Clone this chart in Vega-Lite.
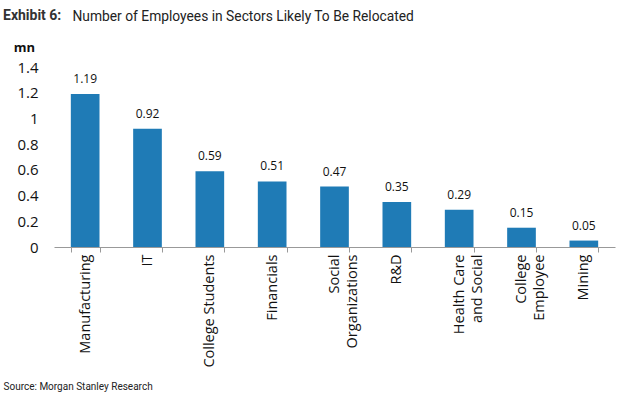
{
  "$schema": "https://vega.github.io/schema/vega-lite/v6.json",
  "width": 561,
  "height": 180,
  "autosize": "none",
  "padding": {"left": 54, "top": 67, "right": 25, "bottom": 157},
  "background": "white",
  "title": {
    "text": "Exhibit 6:",
    "anchor": "start",
    "frame": "group",
    "dx": -51,
    "font": "Roboto",
    "fontSize": 14,
    "fontWeight": "bold",
    "color": "#333333",
    "offset": -14
  },
  "data": {
    "values": [
      {"sector": "Manufacturing", "value": 1.19},
      {"sector": "IT", "value": 0.92},
      {"sector": "College Students", "value": 0.59},
      {"sector": "Financials", "value": 0.51},
      {"sector": "Social|Organizations", "value": 0.47},
      {"sector": "R&D", "value": 0.35},
      {"sector": "Health Care|and Social", "value": 0.29},
      {"sector": "College|Employee", "value": 0.15},
      {"sector": "Mining", "value": 0.05}
    ]
  },
  "encoding": {
    "y": {
      "field": "value",
      "type": "quantitative",
      "scale": {"domain": [0, 1.4], "nice": false},
      "axis": {
        "title": "mn",
        "titleAngle": 0,
        "titleAlign": "center",
        "titleBaseline": "middle",
        "titleX": -30,
        "titleY": -20,
        "titleFont": "Open Sans",
        "titleFontSize": 13,
        "titleFontWeight": "bold",
        "titleColor": "#111111",
        "values": [0, 0.2, 0.4, 0.6, 0.8, 1, 1.2, 1.4],
        "format": ".1~f",
        "labelFont": "Open Sans",
        "labelFontSize": 15,
        "labelColor": "#111111",
        "labelPadding": 16,
        "domain": false,
        "ticks": false,
        "grid": false
      }
    }
  },
  "layer": [
    {
      "mark": {"type": "bar", "color": "#1F7BB6"},
      "encoding": {
        "x": {
          "field": "sector",
          "type": "nominal",
          "sort": null,
          "scale": {"paddingInner": 0.54, "paddingOuter": 0.27},
          "axis": {
            "title": "Source: Morgan Stanley Research",
            "titleAnchor": "start",
            "titleAlign": "left",
            "titleX": -51,
            "titleY": 142,
            "titleBaseline": "alphabetic",
            "titleFont": "Roboto",
            "titleFontSize": 10,
            "titleFontWeight": "normal",
            "titleColor": "#222222",
            "labelExpr": "split(datum.label, '|')",
            "labelAngle": -90,
            "labelFont": "Open Sans",
            "labelFontSize": 14.5,
            "labelColor": "#111111",
            "labelPadding": 2,
            "labelLineHeight": 18,
            "tickBand": "extent",
            "tickSize": 5,
            "tickColor": "#999999",
            "domainColor": "#999999",
            "grid": false
          }
        }
      }
    },
    {
      "mark": {"type": "text", "baseline": "alphabetic", "dy": -11, "font": "Open Sans", "fontSize": 12, "color": "#111111"},
      "encoding": {
        "x": {
          "field": "sector",
          "type": "nominal",
          "sort": null,
          "axis": {
            "orient": "top",
            "title": "Number of Employees in Sectors Likely To Be Relocated",
            "titleAnchor": "start",
            "titleAlign": "left",
            "titleX": 18,
            "titleY": -47,
            "titleBaseline": "alphabetic",
            "titleFont": "Roboto",
            "titleFontSize": 13.8,
            "titleFontWeight": "normal",
            "titleColor": "#222222",
            "labels": false,
            "ticks": false,
            "domain": false,
            "grid": false
          }
        },
        "text": {"field": "value", "type": "quantitative", "format": ".2f"}
      }
    }
  ],
  "resolve": {"axis": {"x": "independent"}},
  "config": {"view": {"stroke": null}}
}
